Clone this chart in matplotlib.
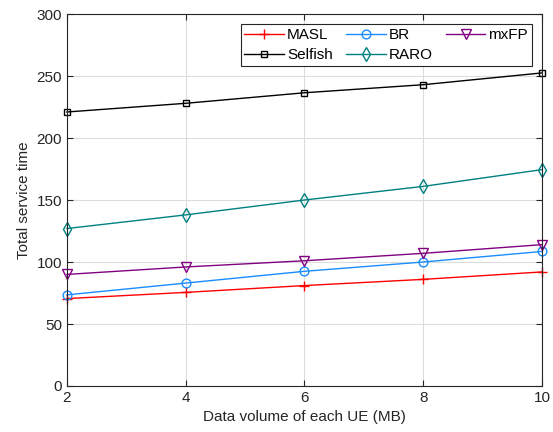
import matplotlib
matplotlib.use("Agg")
import matplotlib.pyplot as plt

plt.rcParams['font.family'] = ['Liberation Sans', 'DejaVu Sans']

x = [2, 4, 6, 8, 10]
masl = [70.5, 75.5, 81, 86, 92]
br = [73.5, 83, 92.5, 100, 108.5]
mxfp = [90, 96, 101, 107, 114]
selfish = [221, 228, 236.5, 243, 252.5]
raro = [127, 138, 150, 161, 174.5]

xticks = [2, 4, 6, 8, 10]
yticks = [0, 50, 100, 150, 200, 250, 300]

fig = plt.figure(figsize=(5.53, 4.32), dpi=100)
ax = fig.add_axes([0.121, 0.1065, 0.859, 0.861])

kw = dict(lw=1, mew=1, clip_on=False)
l1, = ax.plot(x, masl, color='#ff0000', marker='+', ms=6.5, label='MASL', **kw)
l2, = ax.plot(x, br, color='#1a8cff', marker='o', ms=6.3, mfc='none', label='BR', **kw)
l3, = ax.plot(x, mxfp, color='#800080', marker='v', ms=6.5, mfc='none', label='mxFP', **kw)
l4, = ax.plot(x, selfish, color='black', marker='s', ms=4.5, mfc='none', label='Selfish', **kw)
l5, = ax.plot(x, raro, color='#008080', marker='d', ms=7.5, mfc='none', label='RARO', **kw)

ax.set_xlim(2, 10)
ax.set_ylim(0, 300)
ax.set_xticks(xticks)
ax.set_yticks(yticks)
ax.grid(True, color='#dcdcdc', lw=0.8)
ax.set_axisbelow(True)
ax.tick_params(direction='in', top=True, right=True, labelsize=11, colors='#262626', length=4)
for s in ax.spines.values():
    s.set_color('#262626')
    s.set_linewidth(0.8)
ax.set_xlabel('Data volume of each UE (MB)', fontsize=11, color='#262626')
ax.set_ylabel('Total service time', fontsize=11, color='#262626')

leg = ax.legend(handles=[l1, l4, l2, l5, l3], ncol=3, loc='upper right',
                bbox_to_anchor=(0.979, 0.973), fontsize=11, fancybox=False,
                edgecolor='#262626', framealpha=1, handlelength=2.6,
                columnspacing=0.85, handletextpad=0.2, borderpad=0.25,
                labelspacing=0.4, borderaxespad=0)
leg.get_frame().set_linewidth(0.8)

fig.savefig('out.png', dpi=100)
